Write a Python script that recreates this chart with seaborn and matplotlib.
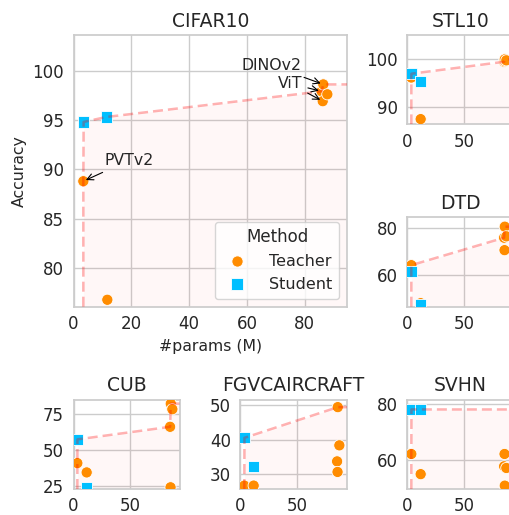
import numpy as np
import pandas as pd
import matplotlib
matplotlib.use("Agg")
import matplotlib.pyplot as plt
import seaborn as sns

# Model sizes (millions of parameters)
teacher_params = [3.4, 11.7, 85.8, 86.2, 86.4, 87.8]
teacher_labels = ["PVTv2", "", "ViT", "ViT", "DINOv2", ""]
student_params = [3.5, 11.3]

# Accuracy per dataset: teachers in the order above, then the two students
datasets = ["CIFAR10", "STL10", "DTD", "CUB", "FGVCAIRCRAFT", "SVHN"]
teacher_acc = {
    "CIFAR10":      [88.8, 76.8, 97.9, 96.9, 98.6, 97.6],
    "STL10":        [96.1, 87.4, 99.4, 99.6, 99.9, 99.7],
    "DTD":          [64.0, 47.8, 75.7, 70.4, 80.4, 76.3],
    "CUB":          [40.8, 34.3, 66.2, 23.9, 82.4, 78.5],
    "FGVCAIRCRAFT": [26.5, 26.5, 33.6, 30.5, 49.5, 38.3],
    "SVHN":         [62.0, 54.8, 57.6, 62.0, 50.7, 57.0],
}
student_acc = {
    "CIFAR10":      [94.8, 95.3],
    "STL10":        [96.9, 95.2],
    "DTD":          [61.2, 47.0],
    "CUB":          [57.4, 24.0],
    "FGVCAIRCRAFT": [40.5, 32.2],
    "SVHN":         [77.9, 77.9],
}
y_limits = {
    "CIFAR10": (76.1, 103.6),
    "STL10": (86.3, 105.0),
    "DTD": (46.3, 84.4),
    "CUB": (22.7, 85.2),
    "FGVCAIRCRAFT": (25.5, 51.7),
    "SVHN": (49.5, 81.4),
}
y_ticks = {
    "CIFAR10": [80, 85, 90, 95, 100],
    "STL10": [90, 100],
    "DTD": [60, 80],
    "CUB": [25, 50, 75],
    "FGVCAIRCRAFT": [30, 40, 50],
    "SVHN": [60, 80],
}
x_max = 94.6

sns.set_theme(style="whitegrid")
plt.rcParams["font.family"] = ["DejaVu Sans"]

fig = plt.figure(figsize=(5.09, 5.15), dpi=100)
gs = fig.add_gridspec(3, 3, left=73.5 / 509, right=514 / 509,
                      top=1 - 35 / 515, bottom=1 - 489 / 515,
                      wspace=0.568, hspace=1.04)
axes = {
    "CIFAR10": fig.add_subplot(gs[0:2, 0:2]),
    "STL10": fig.add_subplot(gs[0, 2]),
    "DTD": fig.add_subplot(gs[1, 2]),
    "CUB": fig.add_subplot(gs[2, 0]),
    "FGVCAIRCRAFT": fig.add_subplot(gs[2, 1]),
    "SVHN": fig.add_subplot(gs[2, 2]),
}

palette = {"Teacher": "#ff8c00", "Student": "#00bfff"}
markers = {"Teacher": "o", "Student": "s"}


def pareto_front(xs, ys):
    order = np.argsort(xs, kind="stable")
    fx, fy, best = [], [], -np.inf
    for i in order:
        if ys[i] > best:
            fx.append(xs[i])
            fy.append(ys[i])
            best = ys[i]
    return fx, fy


for name in datasets:
    ax = axes[name]
    df = pd.DataFrame({
        "params": teacher_params + student_params,
        "acc": teacher_acc[name] + student_acc[name],
        "Method": ["Teacher"] * len(teacher_params) + ["Student"] * len(student_params),
    })
    ylo, yhi = y_limits[name]

    sns.scatterplot(data=df, x="params", y="acc", hue="Method", style="Method",
                    palette=palette, markers=markers, s=65, linewidth=0.6,
                    edgecolor="white", ax=ax, legend=(name == "CIFAR10"), zorder=3)

    fx, fy = pareto_front(df["params"].to_numpy(), df["acc"].to_numpy())
    line_x = [fx[0]] + fx + [x_max]
    line_y = [ylo] + fy + [fy[-1]]
    ax.fill_between(line_x, ylo, line_y, color="red", alpha=0.03, lw=0, zorder=1)
    ax.plot(line_x, line_y, color="red", alpha=0.3, lw=1.8,
            linestyle=(0, (4, 2)), zorder=4)

    ax.set_xlim(0, x_max)
    ax.set_ylim(ylo, yhi)
    ax.set_yticks(y_ticks[name])
    if name == "CIFAR10":
        ax.set_xticks([0, 20, 40, 60, 80])
        ax.set_xlabel("#params (M)", fontsize=11.3, labelpad=4)
        ax.set_ylabel("Accuracy", fontsize=11.3)
    else:
        ax.set_xticks([0, 50])
        ax.set_xlabel("")
        ax.set_ylabel("")
    ax.tick_params(axis="x", labelsize=12, length=0, pad=6.0)
    ax.tick_params(axis="y", labelsize=12, length=0, pad=7.0)
    ax.set_title(name, fontsize=13.5)

# Name the notable teachers on the main panel; a label shared by several
# models is written once, the repeats only contribute their arrows
main = axes["CIFAR10"]
text_pos = {"PVTv2": (19.1, 90.9, "center"), "ViT": (79.0, 98.7, "right"),
            "DINOv2": (79.0, 100.5, "right")}
written = set()
for px, acc, label in zip(teacher_params, teacher_acc["CIFAR10"], teacher_labels):
    if not label:
        continue
    tx, ty, ha = text_pos[label]
    main.annotate(label, xy=(px, acc), xytext=(tx, ty), ha=ha, va="center",
                  fontsize=11.3, color="#262626" if label not in written else "none",
                  arrowprops=dict(arrowstyle="->", color="black", lw=0.8),
                  zorder=5)
    written.add(label)

sns.move_legend(main, "lower right", title="Method", fontsize=11.5,
                title_fontsize=12, frameon=True, handletextpad=1.0)

fig.savefig("out.png", dpi=100)
